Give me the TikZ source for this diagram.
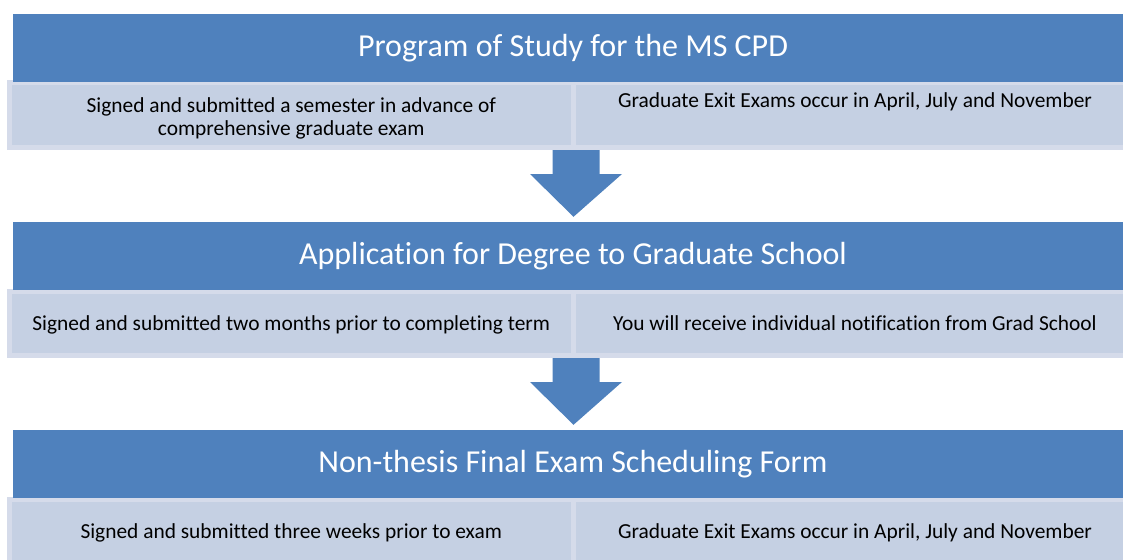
\documentclass[tikz,border=0pt]{standalone}
\usepackage{fontspec}
\setmainfont[Ligatures = {NoCommon}]{Carlito}
\usetikzlibrary{calc}
\definecolor{headblue}{HTML}{4F81BD}
\definecolor{subfill}{HTML}{C5D0E3}
\definecolor{subedge}{HTML}{D5DBEA}

\begin{document}
\begin{tikzpicture}[x = 1pt, y = -1pt,
        head/.style = {fill = headblue, text = white, minimum width = 1120pt, minimum height = 68pt, inner sep = 0pt, font = \fontsize{32}{38}\selectfont},
        sub/.style = {fill = subfill, draw = subedge, line width = 5pt, minimum height = 64.5pt, inner sep = 0pt, font = \fontsize{21.4}{23.5}\selectfont},
        subl/.style = {sub, minimum width = 563.5pt},
        subr/.style = {sub, minimum width = 564pt},
        line/.style = {text height = 19pt, text depth = 5pt}]
        \useasboundingbox (0,0) rectangle (1123,559);
        \clip (0,0) rectangle (1123,559);

        \node[subl, align = center] (l1) at (291.25,115.25) {\rule{0pt}{21pt}Signed and submitted a semester in advance of\\comprehensive graduate exam};
        \node[subr, text height = 24pt, text depth = 40.5pt] (r1) at (855,115.25) {Graduate Exit Exams occur in April, July and November};
        \node[subl, line] (l2) at (291.25,323.25) {Signed and submitted two months prior to completing term};
        \node[subr, line] (r2) at (855,323.25) {You will receive individual notification from Grad School};
        \node[subl, line] (l3) at (291.25,531.25) {Signed and submitted three weeks prior to exam};
        \node[subr, line] (r3) at (855,531.25) {Graduate Exit Exams occur in April, July and November};

        \node[head] (h1) at (573,48) {Program of Study for the MS CPD};
        \node[head] (h2) at (573,256) {Application for Degree to Graduate School};
        \node[head] (h3) at (573,464) {Non-thesis Final Exam Scheduling Form};

        \foreach \a/\b in {l1/h2, l2/h3}
          \fill[headblue] ($(\a.south east)+(-23,0)$)-- ++(47,0)-- ++(0,24)-- ++(22.5,0)-- ($(\b.north)+(0.5,-5)$)-- ($(\a.south east)+(-45.5,24)$)-- ++(22.5,0)--cycle;
      \end{tikzpicture}
\end{document}
